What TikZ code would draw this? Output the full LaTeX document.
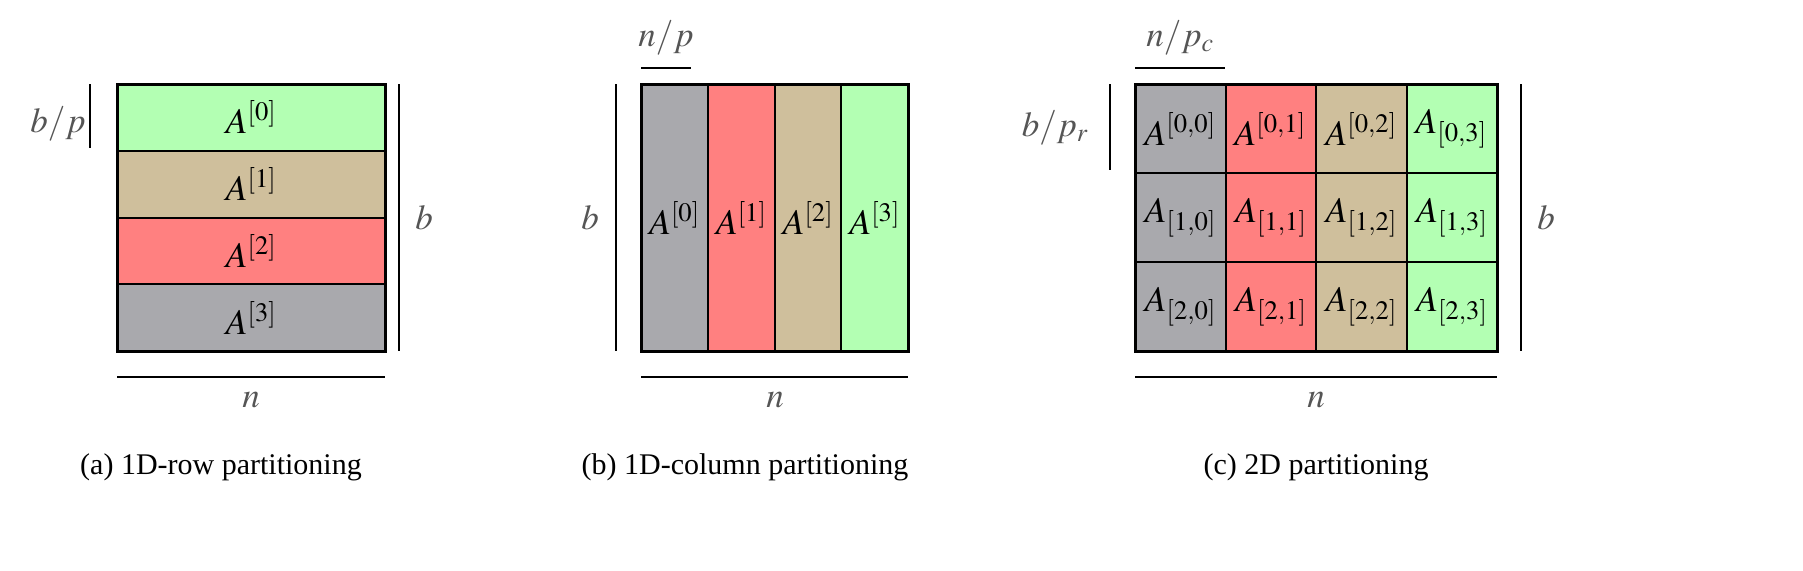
\documentclass[tikz,border=0pt]{standalone}
\usepackage{mathptmx}
\usepackage{fontspec}
\setmainfont{Liberation Serif}
\definecolor{cg}{HTML}{B3FFB3}
\definecolor{ct}{HTML}{CFBF9C}
\definecolor{cr}{HTML}{FF8080}
\definecolor{cy}{HTML}{A9A9AD}
\definecolor{lab}{HTML}{555555}
\begin{document}
\begin{tikzpicture}[x=1pt,y=-1pt,
  bar/.style={line width=2pt,draw=black},
  lbl/.style={text=lab,font=\fontsize{35}{40}\selectfont},
  captext/.style={font=\fontsize{30}{36}\selectfont},
  mat/.style={font=\fontsize{36}{42}\selectfont,inner sep=0pt}]
\useasboundingbox (0,0) rectangle (1803,570);
% panel a
\foreach \c/\t [count=\i from 0] in {cg/0,ct/1,cr/2,cy/3}{
  \fill[\c] (117,{84+\i*66.75}) rectangle (385,{84+(\i+1)*66.75});
  \node[mat] (a\i) at (251,{84+(\i+0.5)*66.75}) {$A^{[\t]}$};
  \draw[line width=2pt] (117,{84+\i*66.75}) rectangle (385,{84+(\i+1)*66.75});
}
\draw[line width=3pt] (117,84) rectangle (385,351);
\coordinate (a1t) at (90,84); \coordinate (a1b) at (90,148);
\draw[bar] (a1t) -- (a1b);
\node[lbl] (abp) at (58,124) {$b/p$};
\coordinate (a2t) at (399,84); \coordinate (a2b) at (399,351);
\draw[bar] (a2t) -- (a2b);
\node[lbl] (ab) at (424,218) {$b$};
\coordinate (a3l) at (117,377); \coordinate (a3r) at (385,377);
\draw[bar] (a3l) -- (a3r);
\node[lbl] (an) at (251,400) {$n$};
\node[captext] (acap) at (221,467) {(a) 1D-row partitioning};
% panel b
\foreach \c/\t [count=\i from 0] in {cy/0,cr/1,ct/2,cg/3}{
  \fill[\c] ({641+\i*66.75},84) rectangle ({641+(\i+1)*66.75},351);
  \node[mat] (b\i) at ({641+(\i+0.5)*66.75},218) {$A^{[\t]}$};
  \draw[line width=2pt] ({641+\i*66.75},84) rectangle ({641+(\i+1)*66.75},351);
}
\draw[line width=3pt] (641,84) rectangle (908,351);
\coordinate (b1l) at (641,68); \coordinate (b1r) at (691,68);
\draw[bar] (b1l) -- (b1r);
\node[lbl] (bnp) at (666,38) {$n/p$};
\coordinate (b2t) at (616,84); \coordinate (b2b) at (616,351);
\draw[bar] (b2t) -- (b2b);
\node[lbl] (bb) at (590,218) {$b$};
\coordinate (b3l) at (641,377); \coordinate (b3r) at (908,377);
\draw[bar] (b3l) -- (b3r);
\node[lbl] (bn) at (775,400) {$n$};
\node[captext] (bcap) at (745,467) {(b) 1D-column partitioning};
% panel c
\foreach \c [count=\j from 0] in {cy,cr,ct,cg}{
  \fill[\c] ({1135+\j*90.5},84) rectangle ({1135+(\j+1)*90.5},351);
  \foreach \r in {0,1,2}{
    \draw[line width=2pt] ({1135+\j*90.5},{84+\r*89}) rectangle ({1135+(\j+1)*90.5},{84+(\r+1)*89});
  }
}
\node[mat] (c00) at (1180,129) {$A^{[0,0]}$};
\node[mat] (c01) at (1270,129) {$A^{[0,1]}$};
\node[mat] (c02) at (1361,129) {$A^{[0,2]}$};
\node[mat] (c03) at (1451,129) {$A_{[0,3]}$};
\foreach \r/\y in {1/218,2/307}{
  \foreach \j [evaluate=\j as \x using 1180.25+\j*90.5] in {0,1,2,3}{
    \node[mat] (c\r\j) at (\x,\y) {$A_{[\r,\j]}$};
  }
}
\draw[line width=3pt] (1135,84) rectangle (1497,351);
\coordinate (c1l) at (1135,68); \coordinate (c1r) at (1225,68);
\draw[bar] (c1l) -- (c1r);
\node[lbl] (cnp) at (1180,38) {$n/p_c$};
\coordinate (c2t) at (1110,84); \coordinate (c2b) at (1110,170);
\draw[bar] (c2t) -- (c2b);
\node[lbl] (cbp) at (1055,128) {$b/p_r$};
\coordinate (c3t) at (1521,84); \coordinate (c3b) at (1521,351);
\draw[bar] (c3t) -- (c3b);
\node[lbl] (cb) at (1546,218) {$b$};
\coordinate (c4l) at (1135,377); \coordinate (c4r) at (1497,377);
\draw[bar] (c4l) -- (c4r);
\node[lbl] (cn) at (1316,400) {$n$};
\node[captext] (ccap) at (1316,467) {(c) 2D partitioning};
\end{tikzpicture}
\end{document}
